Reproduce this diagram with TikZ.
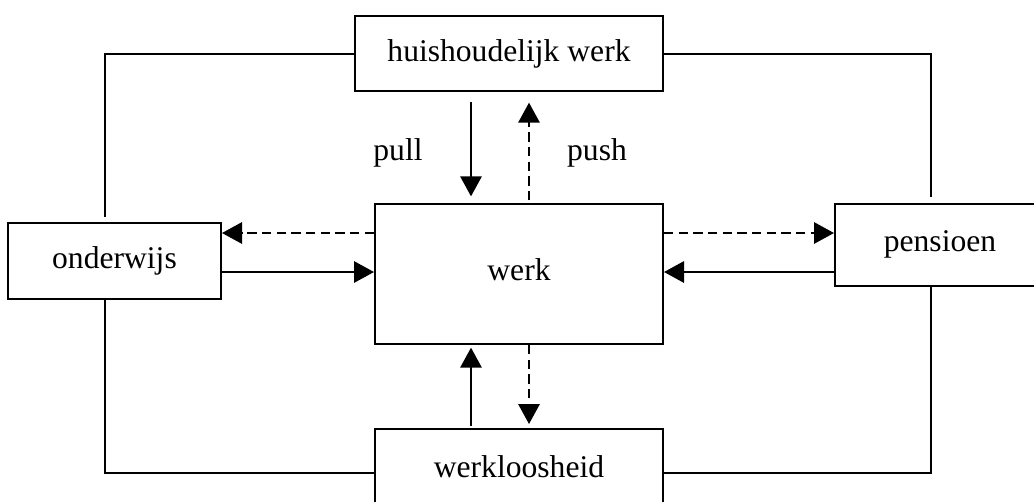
\documentclass[tikz,border=0pt]{standalone}
\usepackage{fontspec}
\setmainfont{Liberation Serif}
\usetikzlibrary{arrows.meta}
\begin{document}
\begin{tikzpicture}[x=0.75pt,y=-0.75pt,
  line width=1.5pt,
  every node/.style={font=\fontsize{23.7pt}{28pt}\selectfont, inner sep=0pt},
  box/.style={draw, fill=white, rectangle},
  solidarrow/.style={-{Triangle[length=15pt,width=16pt]}},
  dasharrow/.style={-{Triangle[length=15pt,width=16pt]}, dash pattern=on 7pt off 4pt},
  frame/.style={line cap=butt}]
\clip (0,0) rectangle (1034,501);
\useasboundingbox (0,0) rectangle (1034,501);
% boxes
\node[box, minimum width=231pt, minimum height=56.25pt] (hh) at (509,53.5) {huishoudelijk werk};
\node[box, minimum width=216pt, minimum height=105pt] (werk) at (519,274) {\raisebox{6.5pt}{werk}};
\node[box, minimum width=159.75pt, minimum height=57pt] (ond) at (114.5,261) {\raisebox{1pt}{onderwijs}};
\node[box, minimum width=157.5pt, minimum height=61.5pt] (pen) at (940,245) {\raisebox{5.5pt}{pensioen}};
\node[box, minimum width=216pt, minimum height=66pt] (wl) at (519,473) {\raisebox{10pt}{werkloosheid}};
% labels
\node (pull) at (398,153) {pull};
\node (push) at (597,153) {push};
% helper coordinates
\coordinate (xA) at (471,0);
\coordinate (xB) at (529,0);
\coordinate (yA) at (0,233);
\coordinate (yB) at (0,272);
\coordinate (lx) at (105,0);
\coordinate (rx) at (931,0);
% frame lines
\draw[frame, shorten >=3.75pt] (hh.west) -| (ond.north -| lx);
\draw[frame, shorten >=4.5pt] (hh.east) -| (pen.north -| rx);
\draw[frame] (ond.south -| lx) |- (wl.west);
\draw[frame] (pen.south -| rx) |- (wl.east);
% arrows top
\draw[solidarrow, shorten <=7.5pt, shorten >=5pt] (hh.south -| xA) -- (werk.north -| xA);
\draw[dasharrow, shorten <=2pt, shorten >=8pt] (werk.north -| xB) -- (hh.south -| xB);
% arrows left
\draw[dasharrow] (werk.west |- yA) -- (ond.east |- yA);
\draw[solidarrow] (ond.east |- yB) -- (werk.west |- yB);
% arrows right
\draw[dasharrow] (werk.east |- yA) -- (pen.west |- yA);
\draw[solidarrow] (pen.west |- yB) -- (werk.east |- yB);
% arrows bottom
\draw[solidarrow, shorten <=1.5pt, shorten >=2pt] (wl.north -| xA) -- (werk.south -| xA);
\draw[dasharrow, shorten >=3pt] (werk.south -| xB) -- (wl.north -| xB);
\end{tikzpicture}
\end{document}
